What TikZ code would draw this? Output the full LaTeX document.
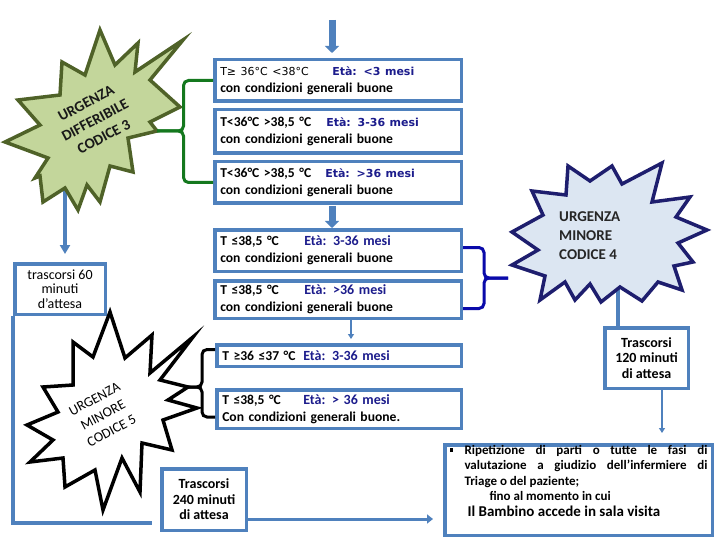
\documentclass[tikz,border=0pt]{standalone}
\usepackage{fontspec}
\setmainfont{Carlito}
\newfontfamily\dvs{DejaVu Sans}
\usetikzlibrary{arrows.meta}
\definecolor{steel}{RGB}{79,129,189}
\definecolor{navy}{RGB}{28,28,140}
\definecolor{gfill}{RGB}{195,214,155}
\definecolor{gline}{RGB}{79,98,40}
\definecolor{bfill}{RGB}{220,230,242}
\definecolor{bline}{RGB}{30,30,110}
\definecolor{brgreen}{RGB}{20,120,30}
\definecolor{brblue}{RGB}{10,10,170}
\newcommand\bxfont{\fontsize{13.6}{17}\selectfont\bfseries}
\newcommand\dvreg{\dvs\mdseries\fontsize{11}{17}\selectfont}
\newcommand\etafont{\dvs\bfseries\fontsize{11}{17}\selectfont\color{navy}}
\newcommand\etab{\bfseries\fontsize{14}{17}\selectfont\color{navy}}
\begin{document}
\begin{tikzpicture}[x=1pt,y=-1pt,
  box/.style={draw=steel, line width=3.5pt, fill=white, inner xsep=5.5pt, inner ysep=0pt, align=left, text width=235.5pt, minimum width=246.5pt, font=\bxfont},
  boxn/.style={box, text width=233.5pt, minimum width=244.5pt},
  wbox/.style={draw=steel, line width=3.5pt, fill=white, inner sep=0pt, align=center},
  conn/.style={draw=steel, line width=3.5pt},
  fatarrow/.style={draw=steel, line width=7pt, -{Triangle[width=14pt,length=7pt]}},
  midarrow/.style={draw=steel, line width=3.5pt, -{Triangle[width=10pt,length=9pt]}},
  thinarrow/.style={draw=steel, line width=2pt, -{Triangle[width=6pt,length=5pt]}},
  brg/.style={draw=brgreen, line width=3pt, rounded corners=5pt},
  brb/.style={draw=brblue, line width=3pt, rounded corners=5pt},
  brk/.style={draw=black, line width=3pt, rounded corners=5pt},
  gstar/.style={draw=gline, fill=gfill, line width=3.5pt, line join=miter},
  bstar/.style={draw=bline, fill=bfill, line width=3.5pt, line join=miter},
  kstar/.style={draw=black, fill=white, line width=3.5pt, line join=miter},
  startext/.style={align=center, inner sep=0pt},
]
\useasboundingbox (0,0) rectangle (720,540);
\fill[white] (0,0) rectangle (720,540);

% connectors hidden behind stars
\coordinate (s3b) at (65,186);
\coordinate (s4b) at (618,284);

% ---- boxes
\node[box, minimum height=41.5pt] (b1) at (338,80.5) {\makebox[112pt][l]{\dvreg T≥ 36°C <38°C}{\etafont Età: <3 mesi}\\con condizioni generali buone};
\node[box, minimum height=43.5pt] (b2) at (338,131.5) {\makebox[106pt][l]{T<36°C >38,5 °C}{\etafont Età: 3-36 mesi}\\con condizioni generali buone};
\node[box, minimum height=41.5pt] (b3) at (338,182.5) {\makebox[105pt][l]{T<36°C >38,5 °C}{\etafont Età: >36 mesi}\\con condizioni generali buone};
\node[box, minimum height=41.5pt] (b4) at (338,250.5) {\makebox[84pt][l]{T ≤38,5 °C}{\etab Età: 3-36 mesi}\\con condizioni generali buone};
\node[box, minimum height=37.5pt] (b5) at (338,299.5) {\makebox[84pt][l]{T ≤38,5 °C}{\etab Età: >36 mesi}\\con condizioni generali buone};
\node[boxn, minimum height=21.5pt] (b6) at (339,355.5) {\makebox[81pt][l]{T ≥36 ≤37 °C}{\etab Età: 3-36 mesi}};
\node[boxn, minimum height=38.5pt] (b7) at (339,409) {\makebox[81pt][l]{T ≤38,5 °C}{\etab Età: > 36 mesi}\\Con condizioni generali buone.};

\node[wbox, minimum width=90.5pt, minimum height=50.5pt, font=\fontsize{14}{14.5}\selectfont] (t60) at (60,289) {trascorsi 60\\minuti\\d’attesa};
\node[wbox, minimum width=83.5pt, minimum height=60.5pt, font=\fontsize{14}{15.5}\selectfont\bfseries] (t120) at (646.5,358) {Trascorsi\\120 minuti\\di attesa};
\node[wbox, minimum width=84.5pt, minimum height=61.5pt, font=\fontsize{14}{15.5}\selectfont\bfseries] (t240) at (204,499.5) {Trascorsi\\240 minuti\\di attesa};

\node[wbox, inner xsep=4.75pt, minimum height=90.5pt] (fin) at (578.5,490) {\parbox[c][90pt][t]{258pt}{\fontsize{13}{15.5}\selectfont\bfseries
\noindent\hangindent=15pt\hangafter=1\makebox[15pt][l]{\rule[2.5pt]{3.5pt}{3.5pt}}Ripetizione di parti o tutte le fasi di\linebreak valutazione a giudizio dell’infermiere di\linebreak Triage o del paziente;\par
\noindent\hspace*{40pt}fino al momento in cui\par
\noindent\hspace*{18pt}{\fontsize{15}{17}\selectfont Il Bambino accede in sala visita}\par}};

% ---- connectors from stars (behind stars)
\draw[midarrow, shorten >=8pt] (s3b) -- (s3b |- t60.north);
\draw[conn] (s4b) -- (s4b |- t120.north);

% ---- stars
\draw[gstar] (100,30) -- (115,65) -- (138,43) -- (135,72) -- (183,40) -- (150,80) -- (180,107) -- (150,122) -- (157,131) -- (128,138) -- (133,172) -- (110,166) -- (100,202) -- (87,185) -- (78,210) -- (65,188) -- (43,202) -- (40,176) -- (35,178) -- (48,158) -- (5,142) -- (40,125) -- (18,100) -- (60,95) -- (62,62) -- (85,75) -- cycle;
\node[startext, rotate=28, font=\fontsize{15}{19}\selectfont\bfseries, text=black!90] (s3) at (95,120) {URGENZA\\DIFFERIBILE\\CODICE 3};

\draw[bstar] (568,166) -- (590,181) -- (612,166) -- (622,184) -- (662,163) -- (652,202) -- (690,197) -- (676,217) -- (707,230) -- (678,243) -- (693,262) -- (674,266) -- (682,290) -- (658,282) -- (642,301) -- (620,287) -- (601,302) -- (590,284) -- (575,300) -- (565,282) -- (540,300) -- (545,276) -- (512,265) -- (538,250) -- (512,232) -- (543,215) -- (532,191) -- (566,195) -- cycle;
\node[startext, anchor=west, align=left, font=\fontsize{15}{19}\selectfont\bfseries, text=black!85] (s4) at (559,236) {URGENZA\\MINORE\\CODICE 4};

\draw[kstar] (110,312) -- (125,358) -- (152,335) -- (150,373) -- (193,337) -- (160,380) -- (188,387) -- (168,400) -- (197,408) -- (163,420) -- (172,450) -- (142,443) -- (140,492) -- (122,458) -- (103,510) -- (95,470) -- (65,487) -- (63,458) -- (30,462) -- (53,440) -- (27,425) -- (58,412) -- (43,387) -- (73,385) -- (73,342) -- (93,357) -- cycle;
\node[startext, rotate=28, font=\fontsize{14}{18}\selectfont] (s5) at (103,415) {URGENZA\\MINORE\\CODICE 5};

% ---- arrows between boxes
\coordinate (top) at (332,20);
\draw[fatarrow, shorten >=5pt] (top) -- (top |- b1.north);
\draw[fatarrow, shorten <=1pt] (top |- b3.south) -- (top |- b4.north);
\draw[thinarrow, shorten >=4pt] ([xshift=13pt]b5.south) -- ([xshift=12pt]b6.north);

% ---- brackets
\coordinate (g3) at (157,131);
\draw[brg] (b1.west) -- (183.5,80.5) -- (183.5,131) -- (g3);
\draw[brg] (b3.west) -- (183.5,182.5) -- (183.5,131) -- (g3);
\coordinate (g4) at (508,278);
\draw[brb] ([yshift=3pt]b4.east) -- (484,247.5) -- (484,278) -- (g4);
\draw[brb] ([yshift=-9pt]b5.east) -- (484,308.5) -- (484,278) -- (g4);
\coordinate (g5) at (188,387);
\draw[brk] ([yshift=6pt]b6.west) -- (202,349.5) -- (202,387) -- (g5);
\draw[brk] ([yshift=-8pt]b7.west) -- (202,417) -- (202,387) -- (g5);

% ---- waiting paths
\coordinate (e240) at (152,523);
\draw[conn] (t60.south west) |- (e240);
\draw[draw=steel, line width=3pt, -{Triangle[width=9pt,length=6pt]}, shorten >=10pt] ([yshift=-19.5pt]t240.east) -- ([yshift=-29pt]fin.west);
\draw[thinarrow, shorten >=10pt] ([xshift=15.5pt]t120.south) -- ([xshift=15.5pt]t120.south |- fin.north);
\end{tikzpicture}
\end{document}
